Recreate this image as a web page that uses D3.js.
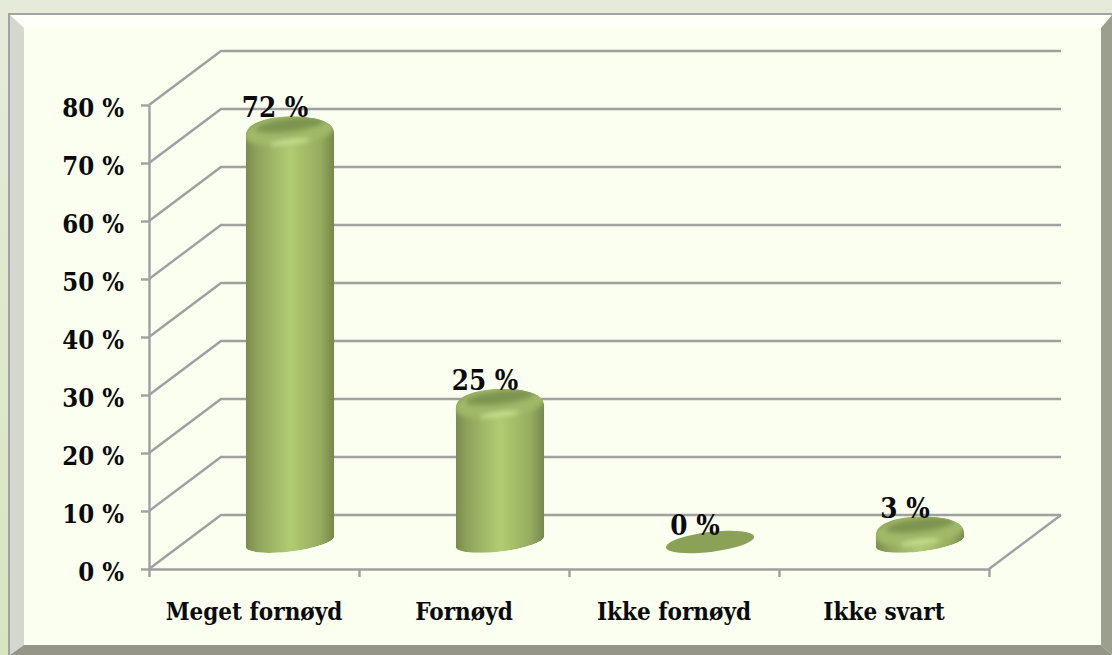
<!DOCTYPE html>
<html>
<head>
<meta charset="utf-8">
<script src="https://cdn.jsdelivr.net/npm/d3@7"></script>
<style>
    html, body { margin: 0; padding: 0; background: #e4ebd8; overflow: hidden; }
    text { font-family: "DejaVu Serif Condensed", "DejaVu Serif", serif; font-weight: bold; fill: #0a0a0a; }
    .axis path, .axis line, .grid { stroke: #a0a0a0; stroke-width: 2.4; fill: none; }
    .axis text { font-size: 25.5px; }
    .axis-x text { font-size: 24px; }
    .bar-label { font-size: 27.5px; }
</style>
</head>
<body>
<div id="chart"></div>
<script>
(function () {

    var categories = ["Meget fornøyd", "Fornøyd", "Ikke fornøyd", "Ikke svart"];
    var values     = [72, 25, 0, 3];
    var yTicks     = [0, 10, 20, 30, 40, 50, 60, 70, 80];

    var W = 1112, H = 655;
    var plot   = { left: 149, right: 989, top: 105, bottom: 569 };
    var depth  = { x: 72, y: 54 };   // oblique offset of the back wall
    var SHOULDER = 2.5;              // bevel eats a little of the bar top
    var RX = 44.5, RY = 9.5, TILT = -7;

    var svg = d3.select("#chart").append("svg")
        .attr("width", W).attr("height", H)
        .style("display", "block");

    var defs = svg.append("defs");

    var bg = defs.append("linearGradient").attr("id", "page-bg")
        .attr("x1", 0).attr("y1", 0).attr("x2", 0).attr("y2", 1);
    bg.append("stop").attr("offset", 0).attr("stop-color", "#e5ebd9");
    bg.append("stop").attr("offset", 1).attr("stop-color", "#d9e5c0");

    var body = defs.append("linearGradient").attr("id", "cyl-body");
    [[0, "#7b8c4f"], [0.14, "#8fa45c"], [0.5, "#b1cd72"], [0.85, "#95ab5e"], [1, "#76874a"]].forEach(function (s) {
        body.append("stop").attr("offset", s[0]).attr("stop-color", s[1]);
    });

    defs.append("filter").attr("id", "soft").attr("x", "-30%").attr("y", "-60%").attr("width", "160%").attr("height", "220%")
        .append("feGaussianBlur").attr("stdDeviation", 2.5);

    /* frame */
    svg.append("rect").attr("width", W).attr("height", H).attr("fill", "url(#page-bg)");
    svg.append("rect").attr("x", 8).attr("y", 13).attr("width", W - 8).attr("height", H - 13).attr("fill", "#a3a3a3");
    svg.append("rect").attr("x", 10).attr("y", 15).attr("width", W - 10).attr("height", H - 15).attr("fill", "#fefff8");
    svg.append("polygon").attr("points", "10,15 24,28 24,645 10,655").attr("fill", "#d3d7cd");
    svg.append("polygon").attr("points", W + ",15 1101,28 1101,645 " + W + ",655").attr("fill", "#9c9e8e");
    svg.append("polygon").attr("points", "10,655 24,645 1101,645 " + W + ",655").attr("fill", "#959688");
    svg.append("rect").attr("x", 24).attr("y", 28).attr("width", 1077).attr("height", 617).attr("fill", "#fafff0");

    /* scales */
    var y = d3.scaleLinear().domain([0, 80]).range([plot.bottom, plot.top]);
    var x = d3.scaleBand().domain(categories).range([plot.left, plot.right]);
    var xEdges = d3.scaleLinear().domain([0, categories.length]).range([plot.left, plot.right]);

    /* walls: side diagonals and back lines */
    var grid = svg.append("g");
    yTicks.forEach(function (t) {
        grid.append("polyline")
            .attr("class", "grid")
            .attr("points", [
                [plot.left, y(t)],
                [plot.left + depth.x, y(t) - depth.y],
                [plot.right + depth.x, y(t) - depth.y]
            ].join(" "));
    });
    grid.append("line")
        .attr("class", "grid")
        .attr("x1", plot.right).attr("y1", y(0))
        .attr("x2", plot.right + depth.x).attr("y2", y(0) - depth.y);

    /* axes */
    var axisY = svg.append("g").attr("class", "axis axis-y")
        .attr("transform", "translate(" + plot.left + ",0)")
        .call(d3.axisLeft(y).tickValues(yTicks).tickSize(8).tickSizeOuter(0).tickPadding(17)
            .tickFormat(function (v) { return v + " %"; }));
    axisY.selectAll("text").attr("dy", "0.45em");

    svg.append("g").attr("class", "axis")
        .attr("transform", "translate(0," + plot.bottom + ")")
        .call(d3.axisBottom(xEdges).ticks(categories.length).tickSize(8).tickSizeOuter(0).tickFormat(""));

    var axisX = svg.append("g").attr("class", "axis axis-x")
        .attr("transform", "translate(0," + plot.bottom + ")")
        .call(d3.axisBottom(x).tickSize(0).tickPadding(34));
    axisX.select(".domain").remove();
    axisX.selectAll("text").attr("dy", "0.71em");

    /* cylinders */
    var rad = TILT * Math.PI / 180;
    var tipX = RX * Math.cos(rad), tipY = RX * Math.sin(rad);

    function cx(d) { return x(d) + x.bandwidth() / 2 + depth.x / 2; }
    function baseY() { return y(0) - depth.y / 2; }
    function topY(v) {
        return v > 0 ? baseY() - (y(0) - y(v)) + SHOULDER : baseY();
    }
    function ellipseAt(sel, cxv, cyv) {
        return sel.attr("cx", 0).attr("cy", 0)
            .attr("transform", "translate(" + cxv + "," + cyv + ") rotate(" + TILT + ")");
    }

    categories.forEach(function (c, i) {
        var v = values[i], mx = cx(c), b = baseY(), t = topY(v);
        var g = svg.append("g").attr("class", "bar");

        if (v === 0) {
            ellipseAt(g.append("ellipse"), mx, b)
                .attr("rx", RX).attr("ry", RY + 0.5).attr("fill", "#8ba158");
            return;
        }

        // bottom follows the tilted disc, top is a rounded bevelled cap
        var outline = "M" + (mx - tipX) + "," + (b - tipY)
            + "A" + RX + "," + RY + " " + TILT + " 0 0 " + (mx + tipX) + "," + (b + tipY)
            + "L" + (mx + tipX) + "," + (t + 6)
            + "C" + (mx + tipX) + "," + (t - 6) + " " + (mx + 24) + "," + (t - 10.5) + " " + (mx + 2) + "," + (t - 10.5)
            + "C" + (mx - 24) + "," + (t - 10.5) + " " + (mx - tipX) + "," + (t - 4) + " " + (mx - tipX) + "," + (t + 9)
            + "Z";

        var clipId = "cyl-clip-" + i;
        defs.append("clipPath").attr("id", clipId).append("path").attr("d", outline);

        var inner = g.append("g").attr("clip-path", "url(#" + clipId + ")");
        inner.append("path").attr("d", outline).attr("fill", "url(#cyl-body)");

        // rim and shoulder highlight
        ellipseAt(inner.append("ellipse"), mx, t + 3)
            .attr("rx", RX + 2).attr("ry", RY + 6).attr("fill", "#a0b868").attr("filter", "url(#soft)");
        ellipseAt(inner.append("ellipse"), mx, t + 15)
            .attr("rx", 20).attr("ry", 2.5).attr("fill", "#cfe693").attr("filter", "url(#soft)");
        // top face
        ellipseAt(inner.append("ellipse"), mx, t - 2)
            .attr("rx", RX - 10).attr("ry", RY - 3).attr("fill", "#7d9450").attr("filter", "url(#soft)");
    });

    /* value labels */
    svg.selectAll(".bar-label")
        .data(values)
        .enter().append("text")
        .attr("class", "bar-label")
        .attr("text-anchor", "middle")
        .attr("x", function (d, i) { return cx(categories[i]) - 15; })
        .attr("y", function (d) { return baseY() - (y(0) - y(d)) - 7; })
        .text(function (d) { return d + " %"; });

}());
</script>
</body>
</html>
